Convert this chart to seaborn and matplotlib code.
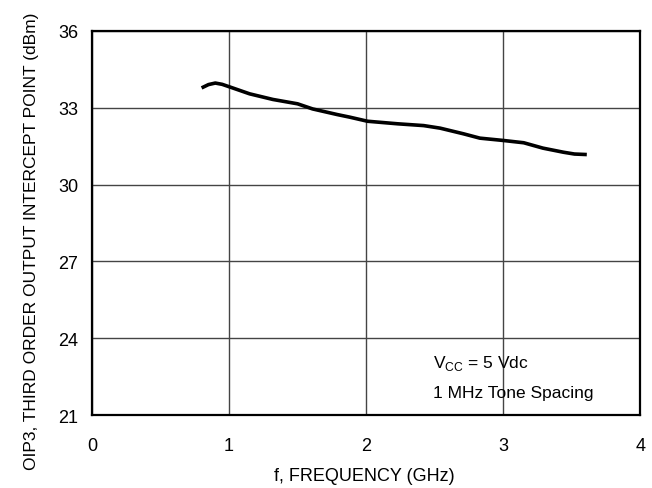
import matplotlib
matplotlib.use("Agg")
import matplotlib.pyplot as plt
import seaborn as sns
import pandas as pd
from matplotlib import font_manager

freq_ghz = [0.80, 0.85, 0.90, 0.95, 1.01, 1.15, 1.32, 1.50, 1.61, 1.79, 1.88, 2.01, 2.23, 2.42,
            2.54, 2.71, 2.83, 3.00, 3.15, 3.29, 3.44, 3.52, 3.61]
oip3_dbm = [33.77, 33.90, 33.96, 33.91, 33.80, 33.54, 33.32, 33.15, 32.95, 32.73, 32.63, 32.47, 32.37, 32.30,
            32.20, 31.98, 31.81, 31.72, 31.63, 31.42, 31.26, 31.19, 31.17]
x_ticks = [0, 1, 2, 3, 4]
y_ticks = [21, 24, 27, 30, 33, 36]

sns.set_theme(style="white")
names = {f.name for f in font_manager.fontManager.ttflist}
fam = [n for n in ["Liberation Sans Narrow", "Liberation Sans", "DejaVu Sans"] if n in names]
plt.rcParams['font.family'] = fam

df = pd.DataFrame({"f": freq_ghz, "oip3": oip3_dbm})

fig = plt.figure(figsize=(6.52, 4.89), dpi=100)
ax = fig.add_axes([0.141, 0.149, 0.841, 0.786])
sns.lineplot(data=df, x="f", y="oip3", sort=False, color="black", linewidth=2.6, ax=ax,
             solid_joinstyle="round", solid_capstyle="butt")

ax.set_xlim(0, 4)
ax.set_ylim(21, 36)
ax.set_xticks(x_ticks)
ax.set_yticks(y_ticks)
ax.tick_params(axis="both", labelsize=13, length=0, colors="black")
ax.tick_params(axis="x", pad=15.5)
ax.tick_params(axis="y", pad=10)
ax.grid(True, color="#444444", linewidth=1.0)
for s in ax.spines.values():
    s.set_color("black")
    s.set_linewidth(1.6)
    s.set_visible(True)

ax.set_xlabel("f, FREQUENCY (GHz)", fontsize=13, color="black", va="center")
ax.xaxis.set_label_coords(0.496, -0.156)
ax.set_ylabel("OIP3, THIRD ORDER OUTPUT INTERCEPT POINT (dBm)", fontsize=12.5, color="black", va="center")
ax.yaxis.set_label_coords(-0.111, 0.456)

ax.text(2.49, 23.07, r"V$_{\mathregular{CC}}$ = 5 Vdc", fontsize=12.5, va="center", ha="left", color="black")
ax.text(2.49, 21.9, "1 MHz Tone Spacing", fontsize=12.5, va="center", ha="left", color="black")

fig.savefig("out.png", dpi=100)
